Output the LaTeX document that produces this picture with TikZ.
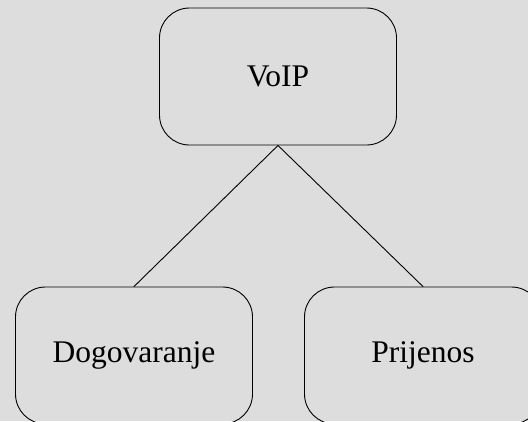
\documentclass[tikz,border=0pt]{standalone}
\usepackage{fontspec}
\setmainfont{Liberation Serif}
\usetikzlibrary{positioning}
\definecolor{bgsiva}{RGB}{221,221,221}
\tikzset{
  kutija/.style={draw, rounded corners=30pt, line width=0.9pt, minimum width=237pt, minimum height=137pt, font=\fontsize{31.5}{36}\selectfont},
}
\begin{document}
\begin{tikzpicture}[x=1pt,y=1pt, line join=round, line cap=round]
            \def\w{528} \def\h{421}
            \useasboundingbox (0,0) rectangle (\w,-\h);
            \clip (0,0) rectangle (\w,-\h);
            \fill[bgsiva] (0,0) rectangle (\w,-\h);
            \node[kutija] (voip) at (278,-76.5) {VoIP};
            \node[kutija] (dog) at (134,-355.5) {Dogovaranje};
            \node[kutija] (pri) at (423,-355.5) {Prijenos};
            \draw[line width=0.9pt] (dog.north)--(voip.south)--(pri.north);
        \end{tikzpicture}
\end{document}
